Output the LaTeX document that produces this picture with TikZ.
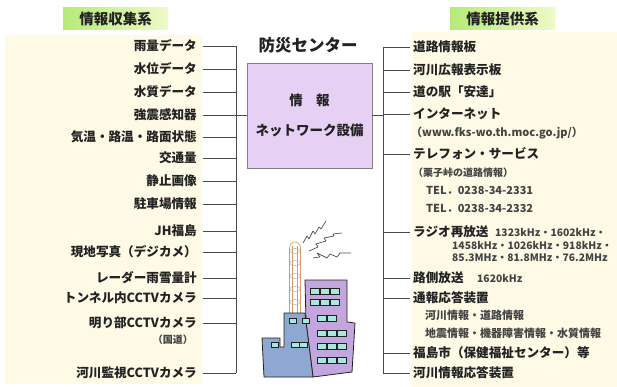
\documentclass[tikz,border=0pt]{standalone}
\usepackage{fontspec}
\setmainfont{Noto Sans CJK JP}
\usepackage{xcolor}
\usepackage{tikz}
\usetikzlibrary{positioning,calc}

\definecolor{ink}{HTML}{222222}
\definecolor{wire}{HTML}{4A4A4A}
\definecolor{cream}{HTML}{FEFAE6}
\definecolor{lilac}{HTML}{E6D0F4}
\definecolor{hdrgreen}{HTML}{B6EA78}
\definecolor{hdrpale}{HTML}{EEFAC8}
\definecolor{wallblue}{HTML}{8EA8D2}
\definecolor{wallpurple}{HTML}{C4A6DE}
\definecolor{glass}{HTML}{A8E8DE}
\definecolor{mast}{HTML}{D8995E}

\tikzset{
  every node/.style={font=\bfseries\fontsize{12.6}{14}\selectfont, text=ink},
  initem/.style={anchor=east, inner ysep=2pt, inner xsep=6pt},
  outitem/.style={anchor=west, inner ysep=2pt, inner xsep=3pt},
  subnote/.style={anchor=west, inner sep=0pt, text=ink!85, font=\bfseries\fontsize{11}{12}\selectfont},
  freqnote/.style={subnote, font=\bfseries\fontsize{10.3}{12}\selectfont},
  header/.style={rectangle, minimum width=105pt, minimum height=22pt,
    left color=hdrgreen, right color=hdrpale, font=\bfseries\fontsize{14.5}{16}\selectfont},
  netbox/.style={rectangle, draw=wire!70, fill=lilac, minimum width=125pt,
    minimum height=105pt, align=center, font=\bfseries\fontsize{13.5}{30}\selectfont},
  link/.style={draw=wire, line width=0.8pt},
  window/.style={fill=glass, draw=ink, line width=0.6pt},
  zap/.style={draw=ink!80, line width=0.7pt, line join=round}
}

\begin{document}
\begin{tikzpicture}[x=1pt, y=-1pt]
\useasboundingbox (0,0) rectangle (617,387);

% Cream panels behind both lists
\fill[cream] (5,35) rectangle (202,384);
\fill[cream] (412,32) rectangle (617,387);

% Headers
\node[header] (collect) at (115.5,19) {情報収集系};
\node[header] (supply) at (502.5,19) {情報提供系};

% Centre: disaster prevention centre
\node[font=\bfseries\fontsize{16.5}{18}\selectfont] (center) at (308,45) {防災センター};
\node[netbox] (net) at (309.5,115.5) {情\quad 報\\ネットワーク設備};

% Bus positions
\coordinate (lbus) at (236,0);
\coordinate (rbus) at (383,0);

% Left side: collected information
\node[initem] (rain) at (203,46) {雨量データ};
\node[initem] (level) at (203,69) {水位データ};
\node[initem] (quality) at (203,92) {水質データ};
\node[initem] (quake) at (203,115) {強震感知器};
\node[initem] (weather) at (203,137) {気温・路温・路面状態};
\node[initem] (traffic) at (203,158) {交通量};
\node[initem] (still) at (203,181) {静止画像};
\node[initem] (parking) at (203,204) {駐車場情報};
\node[initem] (jh) at (203,231) {JH福島};
\node[initem] (photo) at (203,252) {現地写真（デジカメ）};
\node[initem] (radar) at (203,278) {レーダー雨雪量計};
\node[initem] (tunnelcam) at (203,298) {トンネル内CCTVカメラ};
\node[initem] (opencam) at (203,323) {明り部CCTVカメラ};
\node[subnote, anchor=east, font=\bfseries\fontsize{10}{11}\selectfont] (opencamnote) at (193,340) {（国道）};
\node[initem] (rivercam) at (203,373) {河川監視CCTVカメラ};

% Left bus and stubs
\draw[link] (rain.east -| lbus) -- (rivercam.east -| lbus);
\draw[link] (rain.east) -- (rain.east -| lbus);
\draw[link] (level.east) -- (level.east -| lbus);
\draw[link] (quality.east) -- (quality.east -| lbus);
\draw[link] (quake.east) -- (quake.east -| lbus);
\draw[link] (weather.east) -- (weather.east -| lbus);
\draw[link] (traffic.east) -- (traffic.east -| lbus);
\draw[link] (still.east) -- (still.east -| lbus);
\draw[link] (parking.east) -- (parking.east -| lbus);
\draw[link] (jh.east) -- (jh.east -| lbus);
\draw[link] (photo.east) -- (photo.east -| lbus);
\draw[link] (radar.east) -- (radar.east -| lbus);
\draw[link] (tunnelcam.east) -- (tunnelcam.east -| lbus);
\draw[link] (opencam.east) -- (opencam.east -| lbus);
\draw[link] (rivercam.east) -- (rivercam.east -| lbus);
\draw[link] (lbus |- net.west) -- (net.west);

% Right side: provided information
\node[outitem] (roadboard) at (410,47) {道路情報板};
\node[outitem] (riverboard) at (410,70) {河川広報表示板};
\node[outitem] (station) at (410,92) {道の駅「安達」};
\node[outitem] (internet) at (410,114) {インターネット};
\node[subnote] (url) at (411,133) {（www.fks-wo.th.moc.go.jp/）};
\node[outitem] (phone) at (410,154) {テレフォン・サービス};
\node[subnote, font=\bfseries\fontsize{10}{11}\selectfont] (phonenote) at (413,173) {（栗子峠の道路情報）};
\node[subnote] (tel1) at (426,190) {TEL．0238-34-2331};
\node[subnote] (tel2) at (426,208) {TEL．0238-34-2332};
\node[outitem] (radio) at (410,232) {ラジオ再放送};
\node[freqnote] (freq1) at (495,232) {1323kHz・1602kHz・};
\node[freqnote] (freq2) at (452,245) {1458kHz・1026kHz・918kHz・};
\node[freqnote] (freq3) at (452,258) {85.3MHz・81.8MHz・76.2MHz};
\node[outitem] (roadside) at (410,278) {路側放送};
\node[freqnote] (roadsidefreq) at (477,278) {1620kHz};
\node[outitem] (autoreply) at (410,298) {通報応答装置};
\node[subnote] (replynote1) at (425,315) {河川情報・道路情報};
\node[subnote] (replynote2) at (425,333) {地震情報・機器障害情報・水質情報};
\node[outitem] (fukushima) at (410,353) {福島市（保健福祉センター）等};
\node[outitem] (riverreply) at (410,373) {河川情報応答装置};

% Right bus and stubs
\draw[link] (rbus |- roadboard.west) -- (rbus |- riverreply.west);
\draw[link] (net.east) -- (rbus |- net.east);
\draw[link] (rbus |- roadboard.west) -- (roadboard.west);
\draw[link] (rbus |- riverboard.west) -- (riverboard.west);
\draw[link] (rbus |- station.west) -- (station.west);
\draw[link] (rbus |- internet.west) -- (internet.west);
\draw[link] (rbus |- phone.west) -- (phone.west);
\draw[link] (rbus |- radio.west) -- (radio.west);
\draw[link] (rbus |- roadside.west) -- (roadside.west);
\draw[link] (rbus |- autoreply.west) -- (autoreply.west);
\draw[link] (rbus |- fukushima.west) -- (fukushima.west);
\draw[link] (rbus |- riverreply.west) -- (riverreply.west);

% Radio mast
\filldraw[fill=white, draw=mast, line width=0.6pt] (289.5,314) -- (289.5,248) to[out=90,in=180] (295,242) to[out=0,in=90] (300.5,248) -- (300.5,314);
\draw[mast, line width=0.4pt] (292.5,314) -- (292.5,246) (297.5,314) -- (297.5,246);
\foreach \ry in {251,263,276,289,302}
  \draw[gray!60, line width=0.5pt] (295,\ry) ellipse (5.5 and 2.5);

% Radio waves
\draw[zap] (303,243) -- (307,236) -- (309,239) -- (313,231) -- (315,234) -- (319,227) -- (321,229) -- (326,221);
\draw[zap] (309,251) -- (318,247) -- (316,244) -- (326,241) -- (324,238) -- (334,236) -- (333,234) -- (342,233);
\draw[zap] (313,258) -- (320,257) -- (317,253) -- (327,258) -- (330,254) -- (337,257) -- (340,253) -- (351,253);

% Purple tower block
\filldraw[fill=wallpurple, draw=ink, line width=0.8pt, line join=round]
  (305,280) -- (347,280) -- (347,322) -- (355,323) -- (352,372) -- (313,377) -- (306,322) -- cycle;
\filldraw[window] (310,288) rectangle +(9,6) (320,288) rectangle +(9,6) (330,288) rectangle +(9,6);
\filldraw[window] (310,299) rectangle +(9,6) (320,299) rectangle +(9,6) (330,299) rectangle +(9,6);
\filldraw[window] (317,315) rectangle +(9,6) (327,315) rectangle +(9,6);
\filldraw[window] (317,330) rectangle +(9,6) (327,330) rectangle +(9,6) (337,330) rectangle +(9,6);
\filldraw[window] (317,343) rectangle +(9,6) (327,343) rectangle +(9,6) (337,343) rectangle +(9,6);
\filldraw[window] (317,357) rectangle +(9,6) (327,357) rectangle +(9,6) (337,357) rectangle +(9,6);

% Blue front block
\filldraw[fill=wallblue, draw=ink, line width=0.8pt, line join=round]
  (262,338) -- (280,338) -- (280,347) -- (284,347) -- (284,313) -- (305,313)
  -- (306,322) -- (313,377) -- (264,377) -- cycle;
\filldraw[window] (289,318) rectangle +(7,5) (302,318) rectangle +(7,5);
\filldraw[window] (271,342) rectangle +(7,5) (291,342) rectangle +(8,5) (299,342) rectangle +(8,5);

\end{tikzpicture}
\end{document}
